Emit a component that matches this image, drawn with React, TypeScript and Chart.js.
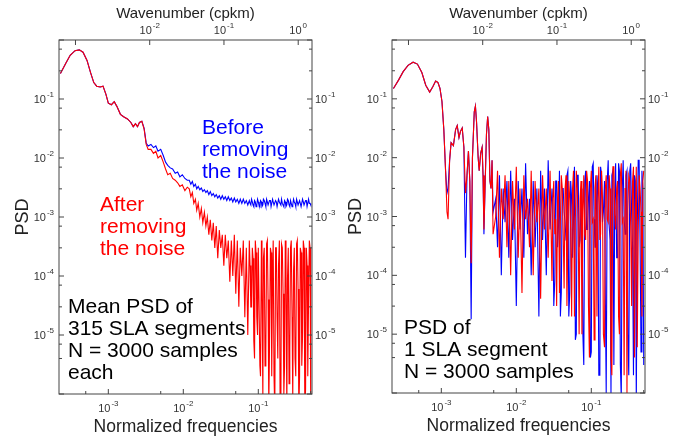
import React, { useEffect, useRef } from "react";
import { Chart, registerables } from "chart.js";
Chart.register(...registerables);

// ---------- DATA ----------
const leftLowFreq = [2.3e-4,2.7e-4,3.1e-4,3.6e-4,4.1e-4,4.6e-4,5.2e-4,5.8e-4,6.4e-4,7.0e-4,7.8e-4,8.5e-4,9.3e-4,1.0e-3,1.1e-3,1.2e-3,1.3e-3,1.45e-3,1.6e-3,1.8e-3,2.0e-3,2.15e-3,2.3e-3,2.45e-3,2.6e-3,2.8e-3,3.0e-3,3.2e-3,3.4e-3,3.7e-3,4.0e-3,4.3e-3,4.6e-3,5.0e-3,5.4e-3,5.8e-3,6.2e-3,6.7e-3,7.2e-3,7.8e-3,8.4e-3,9.0e-3,9.7e-3,0.0105,0.0113];
const leftLowBlue = [0.27,0.40,0.55,0.66,0.68,0.62,0.45,0.28,0.19,0.165,0.16,0.165,0.12,0.085,0.08,0.09,0.075,0.055,0.05,0.046,0.04,0.034,0.038,0.034,0.04,0.042,0.032,0.018,0.016,0.017,0.015,0.016,0.013,0.014,0.011,0.0085,0.0075,0.0068,0.0065,0.0055,0.0058,0.0048,0.0052,0.0045,0.0042];
const leftLowRed = [0.27,0.40,0.55,0.66,0.68,0.62,0.45,0.28,0.19,0.165,0.16,0.165,0.12,0.085,0.08,0.09,0.075,0.055,0.05,0.046,0.04,0.034,0.038,0.034,0.04,0.042,0.031,0.017,0.014,0.014,0.012,0.013,0.010,0.011,0.0085,0.0065,0.0052,0.0055,0.0045,0.0042,0.0038,0.0033,0.0035,0.0028,0.0032];
const leftHighFreq = [0.0120,0.0126,0.0132,0.0138,0.0145,0.0151,0.0158,0.0166,0.0174,0.0182,0.0191,0.0200,0.0209,0.0219,0.0229,0.0240,0.0251,0.0263,0.0275,0.0288,0.0302,0.0316,0.0331,0.0347,0.0363,0.0380,0.0398,0.0417,0.0437,0.0457,0.0479,0.0501,0.0525,0.0550,0.0575,0.0603,0.0631,0.0661,0.0692,0.0724,0.0759,0.0794,0.0832,0.0871,0.0912,0.0955,0.100,0.105,0.110,0.115,0.120,0.126,0.132,0.138,0.145,0.151,0.158,0.166,0.174,0.182,0.191,0.200,0.209,0.219,0.229,0.240,0.251,0.263,0.275,0.288,0.302,0.316,0.331,0.347,0.363,0.380,0.398,0.417,0.437,0.457,0.479,0.500];
const leftHighBlue = [
  0.0042,0.0036,0.0040,0.0033,0.0036,0.0030,0.0033,0.0029,0.0031,0.0027,
  0.0029,0.0026,0.0028,0.0024,0.0027,0.0023,0.0025,0.0022,0.0024,0.0021,
  0.0023,0.0020,0.0023,0.0020,0.0022,0.0019,0.0022,0.0019,0.0021,0.0018,
  0.0021,0.0018,0.0020,0.0017,0.0020,0.0017,0.0020,0.0017,0.0019,0.0016,
  0.0019,0.0016,0.0018,0.0015,0.0018,0.0016,0.0018,0.0015,0.0018,0.0016,
  0.0019,0.0015,0.0018,0.0016,0.0019,0.0015,0.0018,0.0016,0.0018,0.0015,
  0.0018,0.0016,0.0017,0.0015,0.0018,0.0016,0.0019,0.0015,0.0017,0.0016,
  0.0018,0.0015,0.0018,0.0016,0.0017,0.0015,0.0018,0.0016,0.0019,0.0015,
  0.0017,0.0016];
const leftHighRed = [
  0.0030,0.0022,0.0026,0.0017,0.0020,0.0013,0.0017,0.0010,0.0014,0.0008,0.0012,0.0007,
  0.0010,0.0005,0.0009,0.0004,0.0008,0.0003,0.0007,0.0002,0.0006,0.0003,0.0005,0.00015,0.0005,0.0002,0.0004,
  0.00008,0.0004,0.0001,0.0005,0.00005,0.0004,0.00003,0.0003,0.0001,0.0004,0.00002,0.0003,0.00001,0.0004,0.00003,0.0003,0.000008,0.0004,0.00002,0.0003,
  0.000003,0.0004,0.0000008,0.0003,0.000005,0.0004,0.0000006,0.0003,0.000002,0.0004,0.0000005,0.0003,0.000004,0.0004,0.0000007,0.0003,0.000001,0.0004,0.0000005,0.0003,0.000006,0.0004,0.0000008,0.0003,0.000002,0.0004,0.0000005,0.0003,0.000003,0.0004,0.0000006,0.0003,0.000002,0.0004,0.0000005];
const leftMidFreq = [0.0776,0.0813,0.0851,0.0891,0.0933,0.0977,0.102,0.107,0.112,0.117,0.123,0.129,0.135,0.141,0.148,0.155,0.162,0.170,0.178,0.186,0.195,0.204,0.214,0.224,0.234,0.245,0.257,0.269,0.282,0.295,0.309,0.324,0.339,0.355,0.372,0.389,0.407,0.427,0.447,0.468,0.490];
const leftMidBlue = [0.0017,0.0020,0.0016,0.0019,0.0015,0.0020,0.0016,0.0019,0.0015,0.0020,0.0017,0.0020,0.0016,0.0019,0.0015,0.0020,0.0016,0.0019,0.0015,0.0020,0.0017,0.0020,0.0016,0.0019,0.0015,0.0020,0.0016,0.0019,0.0015,0.0020,0.0017,0.0020,0.0016,0.0019,0.0015,0.0020,0.0016,0.0019,0.0015,0.0020,0.0017];
const leftMidRed = [
  0.00015,0.00003,0.0002,0.000004,0.00025,0.00001,0.0003,0.000002,0.00008,0.0002,
  0.000003,0.00035,0.00004,0.000006,0.00025,0.0001,0.000002,0.0003,0.00002,0.00015,
  0.000001,0.00035,0.00005,0.000003,0.0002,0.00009,0.0000015,0.0003,0.00002,0.00012,
  0.000004,0.00035,0.00006,0.000002,0.00025,0.00001,0.0003,0.0000012,0.00015,0.00004,0.0003];

const rightLowFreq = [2.3e-4,2.7e-4,3.1e-4,3.6e-4,4.2e-4,4.8e-4,5.5e-4,6.2e-4,7.0e-4,7.7e-4,8.4e-4,9.0e-4,9.6e-4,1.02e-3,1.08e-3,1.14e-3,1.19e-3,1.23e-3,1.29e-3,1.35e-3,1.45e-3,1.55e-3,1.63e-3,1.72e-3,1.8e-3,1.9e-3,2.0e-3,2.1e-3,2.2e-3,2.3e-3,2.4e-3,2.5e-3,2.6e-3,2.75e-3,2.85e-3,2.95e-3,3.1e-3,3.2e-3,3.35e-3,3.5e-3,3.6e-3,3.7e-3,3.85e-3,4.0e-3,4.15e-3,4.3e-3,4.45e-3,4.6e-3,4.75e-3,4.9e-3];
const rightLowBlue = [0.15,0.21,0.29,0.37,0.42,0.39,0.28,0.17,0.13,0.16,0.2,0.19,0.15,0.09,0.03,0.006,0.0025,0.003,0.009,0.018,0.016,0.03,0.035,0.022,0.028,0.032,0.015,0.0002,0.005,0.013,0.004,0.000018,0.01,0.06,0.075,0.04,0.01,0.006,0.012,0.015,0.005,0.0005,0.004,0.025,0.05,0.03,0.004,0.003,0.009,0.0012];
const rightLowRed = [0.15,0.21,0.29,0.37,0.42,0.39,0.28,0.17,0.13,0.16,0.2,0.19,0.15,0.09,0.03,0.006,0.0012,0.0009,0.009,0.018,0.016,0.03,0.035,0.022,0.028,0.032,0.015,0.0025,0.005,0.013,0.004,0.00016,0.01,0.06,0.075,0.04,0.01,0.006,0.012,0.015,0.005,0.0006,0.004,0.025,0.05,0.03,0.004,0.003,0.009,0.0005];
const rightHighFreq = [
  0.00531,0.00562,0.00596,0.00631,0.00668,0.00708,0.00750,0.00794,0.00841,0.00891,
  0.00944,0.0100,0.0106,0.0112,0.0119,0.0126,0.0133,0.0141,0.0150,0.0158,
  0.0168,0.0178,0.0188,0.0200,0.0211,0.0224,0.0237,0.0251,0.0266,0.0282,
  0.0299,0.0316,0.0335,0.0355,0.0376,0.0398,0.0422,0.0447,0.0473,0.0501,
  0.0531,0.0562,0.0596,0.0631,0.0668,0.0708,0.0750,0.0794,0.0841,0.0891,
  0.0944,0.100,0.106,0.112,0.119,0.126,0.133,0.141,0.150,0.158,
  0.168,0.178,0.188,0.200,0.211,0.224,0.237,0.251,0.266,0.282,
  0.299,0.316,0.335,0.355,0.376,0.398,0.422,0.447,0.473,0.500];
const rightHighBlue = [
  0.002,0.0003,0.005,0.0001,0.003,0.0008,0.004,0.0002,0.006,0.0004,
  0.002,0.00003,0.004,0.0006,0.003,0.0002,0.008,0.0005,0.002,0.0001,
  0.004,0.0003,0.003,0.00002,0.006,0.0004,0.003,0.0001,0.009,0.0006,
  0.003,0.00003,0.004,0.0003,0.006,0.00005,0.003,0.0008,0.005,0.00002,
  0.004,0.0002,0.007,0.00001,0.005,0.0004,0.003,0.000003,0.006,0.0006,
  0.004,0.000005,0.008,0.0003,0.005,0.000002,0.007,0.0008,0.004,0.000001,
  0.009,0.0004,0.005,0.000003,0.008,0.0002,0.006,0.0000008,0.009,0.0005,
  0.006,0.000002,0.008,0.0003,0.005,0.0000007,0.009,0.0004,0.006,0.000003];
const rightHighRed = [
  0.001,0.006,0.0002,0.003,0.0009,0.005,0.0003,0.004,0.0001,0.004,
  0.0006,0.007,0.0002,0.003,0.00005,0.005,0.0009,0.002,0.0003,0.006,
  0.0001,0.004,0.0008,0.003,0.00004,0.005,0.0006,0.003,0.0002,0.006,
  0.00008,0.004,0.0009,0.002,0.00005,0.005,0.0005,0.003,0.00003,0.004,
  0.0006,0.003,0.00002,0.006,0.0008,0.002,0.00001,0.005,0.0004,0.004,
  0.000004,0.006,0.0009,0.003,0.00002,0.007,0.0005,0.002,0.000006,0.005,
  0.0008,0.003,0.000002,0.007,0.0006,0.004,0.00001,0.008,0.0009,0.003,
  0.000001,0.005,0.0007,0.004,0.000004,0.007,0.0005,0.003,0.00002,0.006];
const rightMidFreq = [0.0307,0.0326,0.0345,0.0365,0.0387,0.0410,0.0434,0.0460,0.0487,0.0516,0.0547,0.0579,0.0613,0.0649,0.0688,0.0729,0.0772,0.0818,0.0866,0.0917,0.0972,0.103,0.109,0.115,0.122,0.130,0.137,0.145,0.154,0.163,0.173,0.183,0.194,0.205,0.218,0.231,0.244,0.259,0.274,0.290,0.307,0.326,0.345,0.365,0.387,0.410,0.434,0.460,0.487];
const rightMidBlue = [
  0.0015,0.00008,0.004,0.0007,0.00002,0.003,0.0012,0.0004,0.006,0.00005,
  0.002,0.0009,0.000008,0.005,0.0003,0.0018,0.00001,0.004,0.0006,0.002,
  0.000004,0.007,0.0009,0.0003,0.003,0.000002,0.005,0.0012,0.00004,0.004,
  0.0007,0.000001,0.006,0.0015,0.0002,0.008,0.000003,0.003,0.0009,0.005,
  0.00001,0.006,0.0011,0.000002,0.004,0.0007,0.009,0.000005,0.003];
const rightMidRed = [
  0.002,0.0005,0.00003,0.004,0.0008,0.003,0.00006,0.005,0.0004,0.002,
  0.00002,0.006,0.0009,0.003,0.00001,0.004,0.0012,0.0005,0.006,0.00003,
  0.003,0.0008,0.000008,0.005,0.0015,0.0004,0.006,0.00001,0.003,0.0009,
  0.005,0.000004,0.007,0.0011,0.003,0.00002,0.005,0.0008,0.000002,0.006,
  0.0013,0.004,0.00003,0.007,0.0009,0.000006,0.005,0.0012,0.004];

const xLabelExps = [-3, -2, -1];
const topLabelExps = [-2, -1, 0];
const yLabelExps = [-1, -2, -3, -4, -5];
const WAVENUMBER_FACTOR = 2.95;
const X_MIN = 2.2e-4, X_MAX = 0.52, Y_MIN = 1e-6, Y_MAX = 1;

const FONT = "'Liberation Sans', Arial, sans-serif";

function pts(f: number[], v: number[]) {
  return f.map((x, i) => ({ x, y: v[i] })).sort((a, b) => a.x - b.x);
}

function drawPow(ctx: CanvasRenderingContext2D, exp: number, x: number, y: number, align: "center" | "left" | "right") {
  ctx.font = `11px ${FONT}`;
  const w1 = ctx.measureText("10").width;
  ctx.font = `8px ${FONT}`;
  const es = String(exp);
  const w2 = ctx.measureText(es).width;
  const total = w1 + w2 + 1;
  const sx = align === "center" ? x - total / 2 : align === "right" ? x - total : x;
  ctx.textAlign = "left"; ctx.textBaseline = "alphabetic";
  ctx.font = `11px ${FONT}`;
  ctx.fillText("10", sx, y);
  ctx.font = `8px ${FONT}`;
  ctx.fillText(es, sx + w1 + 1, y - 6);
}

const isPow = (v: number) => Math.abs(Math.log10(v) - Math.round(Math.log10(v))) < 1e-6;

function makeFramePlugin(notes: { lines: string[]; color: string; x: number; y: number }[]) {
  return {
    id: "frame",
    afterDraw(chart: any) {
      const ctx = chart.ctx as CanvasRenderingContext2D;
      const a = chart.chartArea;
      ctx.save();
      ctx.strokeStyle = "#444"; ctx.lineWidth = 1;
      ctx.strokeRect(a.left, a.top, a.right - a.left, a.bottom - a.top);
      const drawTicks = (scale: any, side: string) => {
        ctx.beginPath();
        for (const t of scale.ticks) {
          const len = isPow(t.value) ? 5 : 3;
          const p = scale.getPixelForValue(t.value);
          if (side === "bottom") { if (p < a.left || p > a.right) continue; ctx.moveTo(p, a.bottom); ctx.lineTo(p, a.bottom - len); }
          if (side === "top") { if (p < a.left || p > a.right) continue; ctx.moveTo(p, a.top); ctx.lineTo(p, a.top + len); }
          if (side === "left") { if (p < a.top || p > a.bottom) continue; ctx.moveTo(a.left, p); ctx.lineTo(a.left + len, p); }
          if (side === "right") { if (p < a.top || p > a.bottom) continue; ctx.moveTo(a.right, p); ctx.lineTo(a.right - len, p); }
        }
        ctx.stroke();
      };
      drawTicks(chart.scales.x, "bottom");
      drawTicks(chart.scales.x2, "top");
      drawTicks(chart.scales.y, "left");
      drawTicks(chart.scales.y, "right");
      ctx.fillStyle = "#333";
      for (const e of xLabelExps) drawPow(ctx, e, chart.scales.x.getPixelForValue(Math.pow(10, e)), a.bottom + 18, "center");
      for (const e of topLabelExps) drawPow(ctx, e, chart.scales.x2.getPixelForValue(Math.pow(10, e)), a.top - 6, "center");
      for (const e of yLabelExps) {
        const py = chart.scales.y.getPixelForValue(Math.pow(10, e)) + 4;
        drawPow(ctx, e, a.left - 5, py, "right");
        drawPow(ctx, e, a.right + 3, py, "left");
      }
      ctx.fillStyle = "#222";
      ctx.font = `17.5px ${FONT}`; ctx.textAlign = "center"; ctx.textBaseline = "alphabetic";
      ctx.fillText("Normalized frequencies", (a.left + a.right) / 2, a.bottom + 38);
      ctx.font = `15px ${FONT}`;
      ctx.fillText("Wavenumber (cpkm)", (a.left + a.right) / 2, 18);
      ctx.save();
      ctx.translate(a.left - 31, (a.top + a.bottom) / 2);
      ctx.rotate(-Math.PI / 2);
      ctx.font = `18px ${FONT}`;
      ctx.fillText("PSD", 0, 0);
      ctx.restore();
      ctx.font = `21px ${FONT}`; ctx.textAlign = "left"; ctx.textBaseline = "middle";
      for (const n of notes) {
        ctx.fillStyle = n.color;
        n.lines.forEach((l, i) => ctx.fillText(l, n.x, n.y + i * 22));
      }
      ctx.restore();
    },
  };
}

function Panel(props: { blue: any[]; red: any[]; padding: any; notes: any[] }) {
  const ref = useRef<HTMLCanvasElement>(null);
  useEffect(() => {
    const chart = new Chart(ref.current!, {
      type: "line",
      data: {
        datasets: [
          { data: props.blue, borderColor: "#0000ff", borderWidth: 1.1, pointRadius: 0, order: 1 },
          { data: props.red, borderColor: "#ff0000", borderWidth: 1.1, pointRadius: 0, order: 0 },
        ],
      },
      options: {
        responsive: false, animation: false,
        layout: { padding: props.padding },
        plugins: { legend: { display: false }, tooltip: { enabled: false } },
        scales: {
          x: { type: "logarithmic", min: X_MIN, max: X_MAX, display: false },
          x2: { type: "logarithmic", min: X_MIN * WAVENUMBER_FACTOR, max: X_MAX * WAVENUMBER_FACTOR, display: false },
          y: { type: "logarithmic", min: Y_MIN, max: Y_MAX, display: false },
        },
      } as any,
      plugins: [makeFramePlugin(props.notes)],
    });
    return () => chart.destroy();
  }, []);
  return <canvas ref={ref} width={344} height={436} style={{ width: 344, height: 436, display: "block" }} />;
}

export default function App() {
  const lf = [...leftLowFreq, ...leftHighFreq, ...leftMidFreq];
  const rf = [...rightLowFreq, ...rightHighFreq, ...rightMidFreq];
  const lb = pts(lf, [...leftLowBlue, ...leftHighBlue, ...leftMidBlue]);
  const lr = pts(lf, [...leftLowRed, ...leftHighRed, ...leftMidRed]);
  const rb = pts(rf, [...rightLowBlue, ...rightHighBlue, ...rightMidBlue]);
  const rr = pts(rf, [...rightLowRed, ...rightHighRed, ...rightMidRed]);
  return (
    <div style={{ position: "fixed", left: 0, top: 0, width: 688, height: 436, display: "flex", background: "#fff" }}>
      <Panel blue={lb} red={lr} padding={{ left: 59, right: 32, top: 40, bottom: 42 }}
        notes={[
          { lines: ["Before", "removing", "the noise"], color: "#0000ff", x: 202, y: 128 },
          { lines: ["After", "removing", "the noise"], color: "#ff0000", x: 100, y: 205 },
          { lines: ["Mean PSD of", "315 SLA segments", "N = 3000 samples", "each"], color: "#000", x: 68, y: 307 },
        ]} />
      <Panel blue={rb} red={rr} padding={{ left: 48, right: 43, top: 40, bottom: 43 }}
        notes={[{ lines: ["PSD of", "1 SLA segment", "N = 3000 samples"], color: "#000", x: 60, y: 328 }]} />
    </div>
  );
}
